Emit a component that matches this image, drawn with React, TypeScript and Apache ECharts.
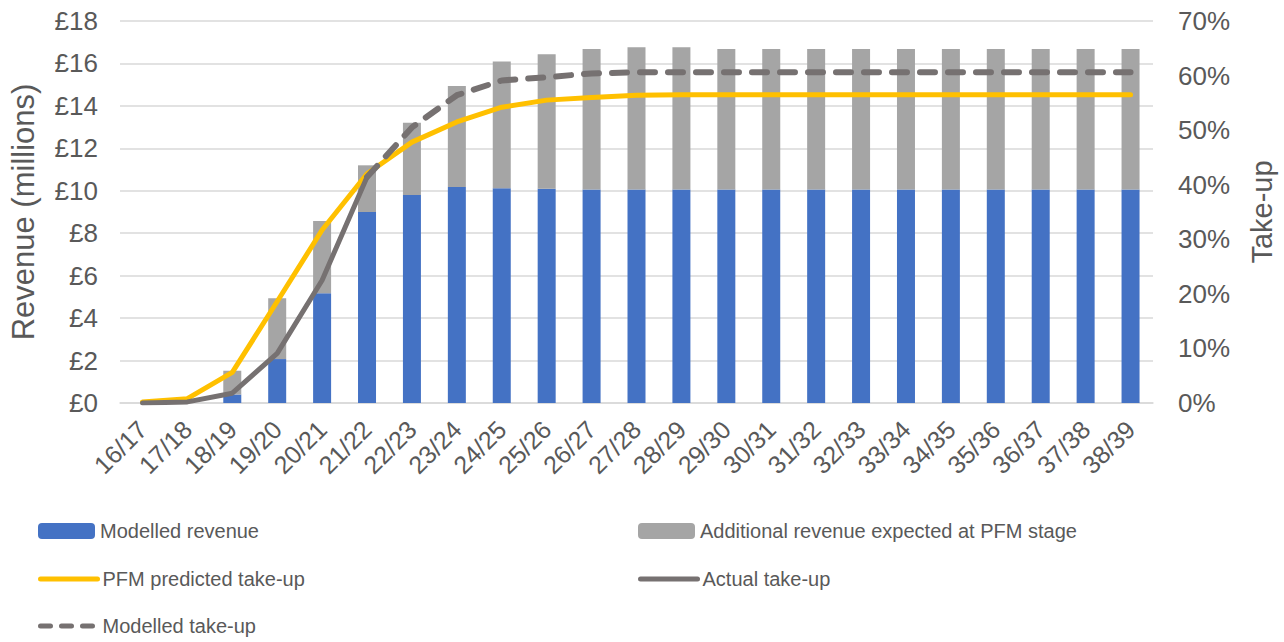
import React, { useEffect, useRef } from "react";
import * as echarts from "echarts";

const categories = [
  "16/17", "17/18", "18/19", "19/20", "20/21", "21/22", "22/23", "23/24",
  "24/25", "25/26", "26/27", "27/28", "28/29", "29/30", "30/31", "31/32",
  "32/33", "33/34", "34/35", "35/36", "36/37", "37/38", "38/39",
];

// £ millions
const modelledRevenue = [
  0, 0, 0.4, 2.07, 5.17, 9.0, 9.8, 10.18, 10.12, 10.1, 10.06, 10.06, 10.06,
  10.06, 10.06, 10.06, 10.06, 10.06, 10.06, 10.06, 10.06, 10.06, 10.06,
];
const additionalRevenue = [
  0, 0, 1.12, 2.86, 3.41, 2.2, 3.4, 4.76, 5.97, 6.33, 6.62, 6.7, 6.7,
  6.62, 6.62, 6.62, 6.62, 6.62, 6.62, 6.62, 6.62, 6.62, 6.62,
];

// take-up, %
const pfmPredicted = [
  0.2, 0.8, 5.6, 18.6, 31.7, 42.0, 47.8, 51.5, 54.2, 55.5, 56.0, 56.4, 56.5,
  56.5, 56.5, 56.5, 56.5, 56.5, 56.5, 56.5, 56.5, 56.5, 56.5,
];
const actualTakeUp = [
  0, 0.2, 1.8, 9.1, 22.5, 41.4, null, null, null, null, null, null, null,
  null, null, null, null, null, null, null, null, null, null,
];
const modelledTakeUp = [
  null, null, null, null, null, 41.4, 50.5, 56.4, 59.1, 59.7, 60.4, 60.6, 60.6,
  60.6, 60.6, 60.6, 60.6, 60.6, 60.6, 60.6, 60.6, 60.6, 60.6,
];

const leftTicks = { min: 0, max: 18, interval: 2 };
const rightTicks = { min: 0, max: 70, interval: 10 };

const TEXT = "#595959";
const FONT = "'Liberation Sans', Arial, sans-serif";

const BLUE = "#4472C4";
const GREY = "#A5A5A5";
const YELLOW = "#FFC000";
const DARK = "#767171";

export default function App() {
  const ref = useRef<HTMLDivElement>(null);

  useEffect(() => {
    if (!ref.current) return;
    const chart = echarts.init(ref.current, undefined, { renderer: "svg" });
    const legendText = { color: TEXT, fontSize: 20, fontFamily: FONT, lineHeight: 24 };
    const mkLegend = (name: string, left: number, top: number, lineStyle?: any) => ({
      left,
      top,
      padding: 0,
      itemWidth: 57,
      itemHeight: 16,
      itemTextGap: 6,
      textStyle: legendText,
      data: [
        lineStyle
          ? { name, itemStyle: { opacity: 0 }, lineStyle }
          : { name },
      ],
    });
    chart.setOption({
      animation: false,
      textStyle: { fontFamily: FONT, color: TEXT },
      grid: { left: 112, right: 129, top: 21, bottom: 239, containLabel: false },
      legend: [
        mkLegend("Modelled revenue", 38, 519),
        mkLegend("PFM predicted take-up", 38, 567, { width: 5, cap: "round", color: YELLOW }),
        mkLegend("Modelled take-up", 38, 614, { width: 5, cap: "round", type: [10, 11], color: DARK }),
        mkLegend("Additional revenue expected at PFM stage", 638, 519),
        mkLegend("Actual take-up", 638, 567, { width: 5, cap: "round", color: DARK }),
      ],
      xAxis: {
        type: "category",
        data: categories,
        axisLine: { show: true, lineStyle: { color: "#d9d9d9", width: 1.5 } },
        axisTick: { show: false },
        axisLabel: {
          rotate: 45,
          interval: 0,
          color: TEXT,
          fontSize: 25,
          fontFamily: FONT,
          margin: 22,
        },
      },
      yAxis: [
        {
          type: "value",
          ...leftTicks,
          name: "Revenue (millions)",
          nameLocation: "middle",
          nameRotate: 90,
          nameGap: 81,
          nameTextStyle: { color: TEXT, fontSize: 31, fontFamily: FONT, padding: [0, 0, 0, 0] },
          axisLine: { show: false },
          axisTick: { show: false },
          axisLabel: {
            color: TEXT,
            fontSize: 26,
            fontFamily: FONT,
            margin: 22,
            formatter: (v: number) => "£" + v,
          },
          splitLine: { show: true, lineStyle: { color: "#d9d9d9", width: 1.5 } },
        },
        {
          type: "value",
          ...rightTicks,
          name: "Take-up",
          nameLocation: "middle",
          nameRotate: 90,
          nameGap: 94,
          nameTextStyle: { color: TEXT, fontSize: 29, fontFamily: FONT },
          axisLine: { show: false },
          axisTick: { show: false },
          axisLabel: {
            color: TEXT,
            fontSize: 26,
            fontFamily: FONT,
            margin: 25,
            formatter: (v: number) => v + "%",
          },
          splitLine: { show: false },
        },
      ],
      series: [
        {
          name: "Modelled revenue",
          type: "bar",
          stack: "rev",
          barWidth: 18,
          itemStyle: { color: BLUE },
          data: modelledRevenue,
        },
        {
          name: "Additional revenue expected at PFM stage",
          type: "bar",
          stack: "rev",
          barWidth: 18,
          itemStyle: { color: GREY },
          data: additionalRevenue,
        },
        {
          name: "PFM predicted take-up",
          type: "line",
          yAxisIndex: 1,
          symbol: "none",
          lineStyle: { color: YELLOW, width: 5, cap: "round", join: "round" },
          itemStyle: { color: YELLOW },
          data: pfmPredicted,
        },
        {
          name: "Actual take-up",
          type: "line",
          yAxisIndex: 1,
          symbol: "none",
          lineStyle: { color: DARK, width: 5, cap: "round", join: "round" },
          itemStyle: { color: DARK },
          data: actualTakeUp,
        },
        {
          name: "Modelled take-up",
          type: "line",
          yAxisIndex: 1,
          symbol: "none",
          lineStyle: {
            color: DARK,
            width: 6,
            type: [15, 13],
            cap: "round",
            join: "round",
          },
          itemStyle: { color: DARK },
          data: modelledTakeUp,
        },
      ],
    });
    return () => chart.dispose();
  }, []);

  return (
    <div
      ref={ref}
      style={{ position: "fixed", left: 0, top: 0, width: 1284, height: 642, background: "#fff" }}
    />
  );
}
